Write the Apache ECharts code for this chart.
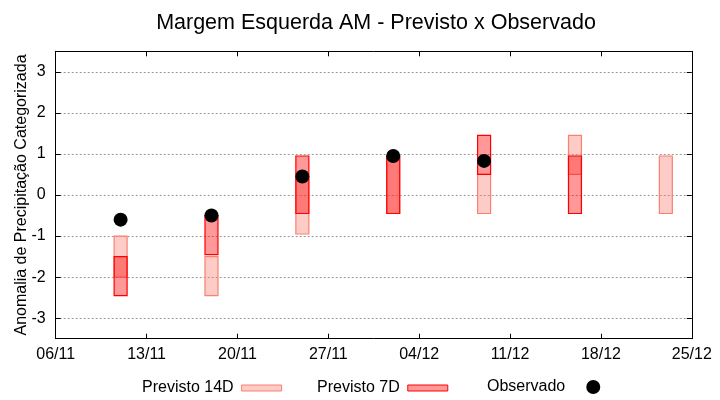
<!DOCTYPE html>
<html>
<head>
<meta charset="utf-8">
<script src="https://cdn.jsdelivr.net/npm/echarts@6/dist/echarts.min.js"></script>
<style>html,body{margin:0;padding:0;background:#fff}#c{width:720px;height:400px}</style>
</head>
<body>
<div id="c"></div>
<script>
// ---- data ----
var startDate = '06/11';
var tickLabels = ['06/11', '13/11', '20/11', '27/11', '04/12', '11/12', '18/12', '25/12'];
var dates14 = ['11/11', '18/11', '25/11', '02/12', '09/12', '16/12', '23/12'];
var low14  = [-2.0, -2.45, -0.95, -0.45, -0.45, 0.5, -0.45];
var high14 = [-1.0, -1.5, 0.45, 0.95, 0.5, 1.45, 0.95];
var dates7 = ['11/11', '18/11', '25/11', '02/12', '09/12', '16/12'];
var low7  = [-2.45, -1.45, -0.45, -0.45, 0.5, -0.45];
var high7 = [-1.5, -0.5, 0.95, 0.95, 1.45, 0.95];
var datesObs = ['11/11', '18/11', '25/11', '02/12', '09/12'];
var obs = [-0.6, -0.5, 0.45, 0.95, 0.83];

function dayOffset(s) {
  var p = s.split('/');
  var p0 = startDate.split('/');
  return Math.round((Date.UTC(2000, +p[1] - 1, +p[0]) - Date.UTC(2000, +p0[1] - 1, +p0[0])) / 86400000);
}
function boxData(dates, lo, hi) {
  return dates.map(function (d, i) { return [dayOffset(d), lo[i], hi[i]]; });
}
function boxRender(params, api) {
  var x = api.value(0), lo = api.value(1), hi = api.value(2);
  var p1 = api.coord([x - 0.5, hi]);
  var p2 = api.coord([x + 0.5, lo]);
  return {
    type: 'rect',
    shape: { x: p1[0], y: p1[1], width: p2[0] - p1[0], height: p2[1] - p1[1] },
    style: api.style()
  };
}

var FONT = 'Liberation Sans, Arial, sans-serif';
var chart = echarts.init(document.getElementById('c'), null, { renderer: 'canvas' });
var xCommon = {
  type: 'value', min: 0, max: 49, interval: 7,
  axisLine: { show: true, onZero: false, lineStyle: { color: '#000', width: 1 } },
  axisTick: { show: true, inside: true, length: 5, lineStyle: { color: '#000' } },
  splitLine: { show: false }
};
var yCommon = {
  type: 'value', min: -3.5, max: 3.5, splitNumber: 7,
  axisLine: { show: true, onZero: false, lineStyle: { color: '#000', width: 1 } },
  axisTick: { show: true, inside: true, length: 5, lineStyle: { color: '#000' },
    customValues: [-3, -2, -1, 0, 1, 2, 3] }
};
chart.setOption({
  animation: false,
  backgroundColor: '#fff',
  textStyle: { fontFamily: FONT },
  title: {
    text: 'Margem Esquerda AM - Previsto x Observado',
    left: 371, top: 7, textAlign: 'center',
    textStyle: { fontFamily: FONT, fontSize: 21.5, fontWeight: 'normal', color: '#000' }
  },
  grid: { left: 55.7, right: 28.2, top: 51.3, bottom: 61.3, containLabel: false, outerBoundsMode: 'none' },
  legend: [{
    data: [
      { name: 'Previsto 14D', itemStyle: { color: 'rgba(250,128,114,0.4)', borderColor: '#fa8072', borderWidth: 1 } },
      { name: 'Previsto 7D', itemStyle: { color: 'rgba(255,0,0,0.4)', borderColor: '#ff0000', borderWidth: 1 } }
    ],
    left: 137, top: 375, align: 'right', icon: 'rect',
    itemWidth: 40, itemHeight: 6, itemGap: 35,
    textStyle: { fontFamily: FONT, fontSize: 16, color: '#000', padding: [0, 3, 0, 0] }
  }, {
    data: [{ name: 'Observado', itemStyle: { color: '#000' } }],
    left: 482, top: 374, align: 'right', icon: 'circle',
    itemWidth: 14, itemHeight: 14,
    textStyle: { fontFamily: FONT, fontSize: 16, color: '#000', padding: [0, 16, 0, 0] }
  }],
  xAxis: [
    Object.assign({}, xCommon, {
      position: 'bottom',
      axisLabel: { margin: 8, color: '#000', fontSize: 16, fontFamily: FONT,
        formatter: function (v) { return tickLabels[Math.round(v / 7)] || ''; } }
    }),
    Object.assign({}, xCommon, { position: 'top', axisLabel: { show: false } })
  ],
  yAxis: [
    Object.assign({}, yCommon, {
      position: 'left',
      name: 'Anomalia de Precipitação Categorizada',
      nameLocation: 'middle', nameGap: 26, nameMoveOverlap: false,
      nameTextStyle: { fontFamily: FONT, fontSize: 16, color: '#000' },
      axisLabel: { margin: 10, color: '#000', fontSize: 16, fontFamily: FONT,
        customValues: [-3, -2, -1, 0, 1, 2, 3],
        formatter: function (v) { return (Math.abs(v - Math.round(v)) < 1e-6 && Math.abs(v) < 3.4) ? String(Math.round(v)) : ''; } },
      splitLine: { show: true, lineStyle: { color: '#999', type: [2, 2], width: 1 } }
    }),
    Object.assign({}, yCommon, { position: 'right', axisLabel: { show: false }, splitLine: { show: false } })
  ],
  series: [
    {
      name: 'Previsto 14D', type: 'custom', renderItem: boxRender,
      data: boxData(dates14, low14, high14),
      itemStyle: { color: 'rgba(250,128,114,0.4)', borderColor: '#fa8072', borderWidth: 1.2 },
      encode: { x: 0, y: [1, 2] }, z: 2
    },
    {
      name: 'Previsto 7D', type: 'custom', renderItem: boxRender,
      data: boxData(dates7, low7, high7),
      itemStyle: { color: 'rgba(255,0,0,0.4)', borderColor: '#ff0000', borderWidth: 1.2 },
      encode: { x: 0, y: [1, 2] }, z: 3
    },
    {
      name: 'Observado', type: 'scatter', symbol: 'circle', symbolSize: 14,
      data: datesObs.map(function (d, i) { return [dayOffset(d), obs[i]]; }),
      itemStyle: { color: '#000', opacity: 1 }, z: 4
    }
  ]
});
</script>
</body>
</html>
